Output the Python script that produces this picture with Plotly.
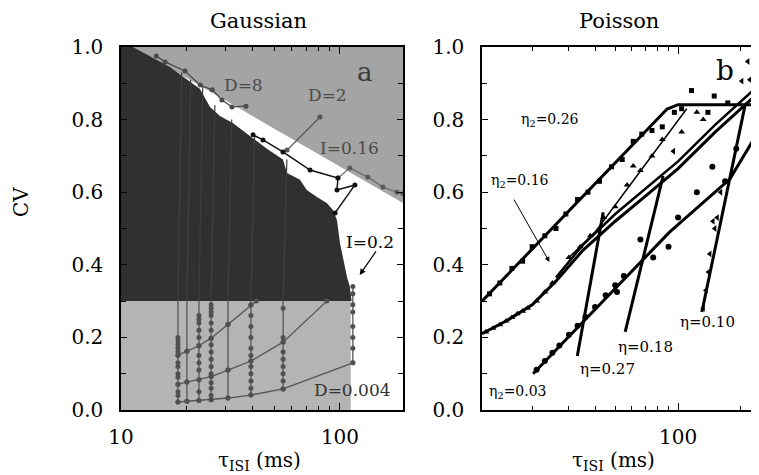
import math
import plotly.graph_objects as go
from plotly.subplots import make_subplots

# ---------------- panel a : Gaussian ----------------
# shaded regions (tau_ISI in ms, CV)
grey_top_x = [11.35, 194, 194]
grey_top_cv = [1.0, 1.0, 0.57]

dark_x = [10, 10, 11.35, 16.7, 22.9, 25.5, 28.3, 32.5, 38.8, 46.4, 54.9, 57.3, 65.7,
          70.5, 78.5, 87.0, 92.9, 96.9, 100, 107.7, 111, 113]
dark_cv = [0.3, 1.0, 1.0, 0.945, 0.885, 0.835, 0.81, 0.79, 0.755, 0.72, 0.69, 0.653, 0.634,
           0.606, 0.587, 0.57, 0.551, 0.523, 0.46, 0.366, 0.339, 0.30]

grey_low_x = [10, 112, 112, 10]
grey_low_cv = [0, 0, 0.3, 0.3]

# constant-I curves (vertical) and their points
vert_x = [18.2, 20.0, 22.7, 25.8, 30.8, 39.2, 55.0, 114.5]
vert_lo = [0.022, 0.024, 0.026, 0.028, 0.033, 0.041, 0.058, 0.13]
vert_top = [0.93, 0.91, 0.89, 0.84, 0.80, 0.755, 0.69, 0.34]
dots_18 = [0.022, 0.04, 0.05, 0.071, 0.09, 0.10, 0.12, 0.13, 0.151, 0.16, 0.17, 0.18, 0.19, 0.20]
dots_20 = [0.024, 0.077, 0.162]
dots_23 = [0.026, 0.05, 0.083, 0.11, 0.13, 0.15, 0.177, 0.20, 0.22, 0.24, 0.25, 0.26]
dots_26 = [0.028, 0.04, 0.06, 0.075, 0.092, 0.10, 0.12, 0.14, 0.16, 0.18, 0.198, 0.22,
           0.24, 0.26, 0.27, 0.28, 0.29]
dots_31 = [0.033, 0.11, 0.236]
dots_39 = [0.041, 0.06, 0.08, 0.10, 0.12, 0.135, 0.15, 0.17, 0.20, 0.23, 0.26, 0.289]
dots_55 = [0.058, 0.08, 0.10, 0.12, 0.14, 0.16, 0.187, 0.20, 0.28]
dots_115 = [0.13, 0.17, 0.20, 0.23, 0.27, 0.29, 0.32, 0.34]

# constant-D curves
d004_x = [18.2, 20.0, 22.7, 25.8, 30.8, 39.2, 55.0, 114.5]
d004_cv = [0.022, 0.024, 0.026, 0.028, 0.033, 0.041, 0.058, 0.13]
dmid_x = [18.2, 20.0, 22.7, 25.8, 30.8, 39.2, 55.0, 87.0]
dmid_cv = [0.071, 0.077, 0.083, 0.092, 0.11, 0.135, 0.187, 0.30]
dtop_x = [18.2, 20.0, 22.7, 25.8, 30.8, 39.2, 41.5]
dtop_cv = [0.151, 0.162, 0.177, 0.198, 0.236, 0.289, 0.30]

d8_x = [14.5, 15.9, 19.6, 23.0, 26.1, 28.9, 32.1, 37.2]
d8_cv = [0.975, 0.959, 0.934, 0.895, 0.882, 0.854, 0.835, 0.837]
d2_x = [57.3, 81.1]
d2_cv = [0.716, 0.807]
i16_x = [40.1, 44.5, 54.9, 73.0, 97.9, 96.9, 117, 95]
i16_cv = [0.758, 0.744, 0.711, 0.661, 0.639, 0.606, 0.62, 0.543]
gdot_x = [97.9, 111, 134, 157, 182, 194]
gdot_cv = [0.639, 0.667, 0.642, 0.614, 0.60, 0.596]

# ---------------- panel b : Poisson ----------------
eta26_x = [11.5, 88.6, 100, 280]
eta26_cv = [0.30, 0.829, 0.841, 0.841]
eta16a_x = [11.5, 15, 20, 26, 35, 50, 70, 100, 150, 205, 244, 270]
eta16a_cv = [0.21, 0.245, 0.29, 0.355, 0.44, 0.52, 0.59, 0.665, 0.765, 0.835, 0.875, 0.90]
eta16b_x = [26, 35, 50, 70, 100, 150, 205, 244, 270]
eta16b_cv = [0.365, 0.455, 0.54, 0.61, 0.685, 0.785, 0.855, 0.895, 0.92]
thin_x = [30, 40, 110]
thin_cv = [0.42, 0.49, 0.83]
eta03_x = [20.2, 50, 91, 177, 244, 270]
eta03_cv = [0.10, 0.335, 0.49, 0.636, 0.77, 0.80]
e27_x = [32.9, 43.8]
e27_cv = [0.149, 0.545]
e18_x = [55.8, 84.8]
e18_cv = [0.215, 0.645]
e10_x = [130, 209]
e10_cv = [0.27, 0.837]

sq_x = [12.5, 14, 16, 18, 20, 23, 26, 29, 33, 37, 42, 48, 54, 61, 67, 75, 84, 96, 104, 116, 139, 149, 173]
sq_cv = [0.32, 0.35, 0.39, 0.41, 0.45, 0.48, 0.50, 0.54, 0.58, 0.60, 0.63, 0.67, 0.69, 0.74,
         0.76, 0.77, 0.78, 0.82, 0.83, 0.88, 0.82, 0.865, 0.846]
tri_x = [12, 13, 14, 15, 16, 17, 18, 19, 21, 23, 25, 30, 34, 38, 44, 50, 57, 61, 66, 75, 84, 104, 123, 132]
tri_cv = [0.215, 0.225, 0.235, 0.245, 0.255, 0.265, 0.272, 0.28, 0.30, 0.325, 0.35, 0.42, 0.45,
          0.48, 0.53, 0.56, 0.62, 0.672, 0.66, 0.70, 0.745, 0.766, 0.82, 0.80]
circ_x = [21, 23, 25, 27, 30, 33, 36, 40, 45, 50, 51, 55, 66, 76, 90, 100, 123, 146, 168, 190]
circ_cv = [0.111, 0.135, 0.158, 0.178, 0.207, 0.232, 0.256, 0.284, 0.316, 0.344, 0.325, 0.369,
           0.47, 0.42, 0.45, 0.53, 0.60, 0.67, 0.63, 0.72]
ltri_x = [132, 136, 140, 142, 147, 150, 154, 160, 95, 202, 216, 221]
ltri_cv = [0.28, 0.33, 0.38, 0.43, 0.52, 0.50, 0.53, 0.60, 0.713, 0.906, 0.96, 0.91]

FONT = "DejaVu Serif"
W, H = 759, 475
OFF = 8  # page body margin shifts the figure by this many pixels

fig = make_subplots(rows=1, cols=2)


def add(tr, col):
    fig.add_trace(tr, row=1, col=col)


def region(x, y, color, col=1):
    add(go.Scatter(x=x, y=y, fill="toself", fillcolor=color, mode="lines",
                   line=dict(width=0, color=color), hoverinfo="skip"), col)


# panel a shading
region(grey_top_x, grey_top_cv, "#a4a4a4")
region(dark_x, dark_cv, "#303030")
region(grey_low_x, grey_low_cv, "#b4b4b4")

# faint streaks inside dark region
for vx, top in zip(vert_x[:-1], vert_top[:-1]):
    add(go.Scatter(x=[vx, vx * 1.04], y=[0.3, top], mode="lines",
                   line=dict(color="#3e3e3e", width=1.2)), 1)

# vertical curves with dots
all_dots = [dots_18, dots_20, dots_23, dots_26, dots_31, dots_39, dots_55, dots_115]
for vx, lo, dots in zip(vert_x, vert_lo, all_dots):
    hi = 0.34 if vx > 100 else 0.3
    add(go.Scatter(x=[vx, vx], y=[lo, hi], mode="lines", line=dict(color="#555555", width=1.3)), 1)
    add(go.Scatter(x=[vx] * len(dots), y=dots, mode="markers",
                   marker=dict(color="#505050", size=5)), 1)

for cx, cy in [(d004_x, d004_cv), (dmid_x, dmid_cv), (dtop_x, dtop_cv)]:
    add(go.Scatter(x=cx, y=cy, mode="lines+markers", line=dict(color="#555555", width=1.3),
                   marker=dict(color="#505050", size=5)), 1)

add(go.Scatter(x=d8_x, y=d8_cv, mode="lines+markers", line=dict(color="#4a4a4a", width=1.3),
               marker=dict(color="#4a4a4a", size=5)), 1)
add(go.Scatter(x=d2_x, y=d2_cv, mode="lines+markers", line=dict(color="#555555", width=1.3),
               marker=dict(color="#555555", size=5)), 1)
add(go.Scatter(x=gdot_x, y=gdot_cv, mode="lines+markers", line=dict(color="#666666", width=1.2),
               marker=dict(color="#5a5a5a", size=5)), 1)
add(go.Scatter(x=i16_x, y=i16_cv, mode="lines+markers", line=dict(color="#111111", width=1.5),
               marker=dict(color="#111111", size=5)), 1)

# panel b lines
for lx, ly, w in [(eta26_x, eta26_cv, 3), (eta16a_x, eta16a_cv, 3), (eta16b_x, eta16b_cv, 2.5),
                  (thin_x, thin_cv, 1.5), (eta03_x, eta03_cv, 3), (e27_x, e27_cv, 3),
                  (e18_x, e18_cv, 3), (e10_x, e10_cv, 3)]:
    add(go.Scatter(x=lx, y=ly, mode="lines", line=dict(color="black", width=w)), 2)

add(go.Scatter(x=sq_x, y=sq_cv, mode="markers", marker=dict(symbol="square", color="black", size=5)), 2)
add(go.Scatter(x=tri_x, y=tri_cv, mode="markers", marker=dict(symbol="triangle-up", color="black", size=6)), 2)
add(go.Scatter(x=circ_x, y=circ_cv, mode="markers", marker=dict(symbol="circle", color="black", size=6)), 2)
add(go.Scatter(x=ltri_x, y=ltri_cv, mode="markers", marker=dict(symbol="triangle-left", color="black", size=6)), 2)


def px_x(p):
    return (p - OFF) / W


def px_y(p):
    return 1 - (p - OFF) / H


dom_a = [px_x(121), px_x(403)]
dom_b = [px_x(482), 1.0]
dom_y = [px_y(410), px_y(47)]

axis_common = dict(showline=True, linecolor="black", linewidth=1.5, ticks="inside",
                   tickcolor="black", showgrid=False, zeroline=False, automargin=False,
                   tickfont=dict(family=FONT, size=20, color="black"))

ytick_vals = [0, 0.2, 0.4, 0.6, 0.8, 1.0]
ytick_text = ["0.0", "0.2", "0.4", "0.6", "0.8", "1.0"]
minor_x = [20, 30, 40, 50, 60, 70, 80, 90, 200]

fig.update_xaxes(type="log", range=[1, math.log10(194)], domain=dom_a, mirror="ticks",
                 tickvals=[10, 100], ticktext=["10", "100"], ticklen=7, ticklabelstandoff=8,
                 minor=dict(tickvals=minor_x, ticks="inside", ticklen=4, tickcolor="black"),
                 row=1, col=1, **axis_common)
fig.update_xaxes(type="log", range=[math.log10(11.5), 2.426], domain=dom_b,
                 mirror="ticks", tickvals=[100], ticktext=["100"], ticklen=7, ticklabelstandoff=8,
                 minor=dict(tickvals=minor_x, ticks="inside", ticklen=4, tickcolor="black"),
                 row=1, col=2, **axis_common)
fig.update_yaxes(range=[0, 1], domain=dom_y, mirror="ticks", tickvals=ytick_vals,
                 ticktext=ytick_text, ticklen=6, ticklabelstandoff=12,
                 minor=dict(dtick=0.1, ticks="inside", ticklen=5, tickcolor="black"),
                 row=1, col=1, **axis_common)
fig.update_yaxes(range=[0, 1], domain=dom_y, mirror=False, tickvals=ytick_vals,
                 ticktext=ytick_text, ticklen=6, ticklabelstandoff=12,
                 minor=dict(dtick=0.1, ticks="inside", ticklen=5, tickcolor="black"),
                 row=1, col=2, **axis_common)


def note(text, x, y, ax_id, size=15, color="black"):
    fig.add_annotation(text=text, x=math.log10(x), y=y, xref="x" + ax_id, yref="y" + ax_id,
                       showarrow=False, xanchor="center", yanchor="middle",
                       font=dict(family=FONT, size=size, color=color))


note("D=8", 36.1, 0.895, "", 17, "#4a4a4a")
note("D=2", 87.3, 0.868, "", 17, "#4a4a4a")
note("I=0.16", 111, 0.722, "", 17, "#4a4a4a")
note("a", 130, 0.93, "", 26, "#3a3a3a")
note("I=0.2", 137, 0.463, "", 17)
note("D=0.004", 114.6, 0.055, "", 17, "#333333")

note("η<sub>2</sub>=0.26", 24.4, 0.80, "2", 14)
note("η<sub>2</sub>=0.16", 17.5, 0.63, "2", 14)
note("η<sub>2</sub>=0.03", 17.2, 0.05, "2", 14)
note("η=0.27", 45.7, 0.113, "2", 15)
note("η=0.18", 69.5, 0.174, "2", 15)
note("η=0.10", 139, 0.242, "2", 15)
note("b", 168, 0.935, "2", 28)

fig.add_annotation(x=math.log10(123), y=0.372, ax=math.log10(147.6), ay=0.441, xref="x", yref="y",
                   axref="x", ayref="y", text="", showarrow=True, arrowhead=2, arrowsize=1,
                   arrowwidth=1.2, arrowcolor="black")
fig.add_annotation(x=math.log10(24.2), y=0.408, ax=math.log10(16.2), ay=0.584, xref="x2", yref="y2",
                   axref="x2", ayref="y2", text="", showarrow=True, arrowhead=2, arrowsize=1,
                   arrowwidth=1, arrowcolor="black")

for text, x, y, size, angle in [("Gaussian", 258, 21, 21, 0), ("Poisson", 619, 21, 21, 0),
                                ("CV", 21, 202, 20, -90),
                                ("τ<sub>ISI</sub> (ms)", 259, 461, 20, 0),
                                ("τ<sub>ISI</sub> (ms)", 613, 461, 20, 0)]:
    fig.add_annotation(text=text, x=px_x(x), y=px_y(y), xref="paper", yref="paper",
                       showarrow=False, textangle=angle, xanchor="center", yanchor="middle",
                       font=dict(family=FONT, size=size, color="black"))

fig.update_layout(width=W, height=H, margin=dict(l=0, r=0, t=0, b=0, autoexpand=False),
                  showlegend=False, paper_bgcolor="white", plot_bgcolor="white",
                  font=dict(family=FONT, color="black"))

fig.write_html("out.html")
